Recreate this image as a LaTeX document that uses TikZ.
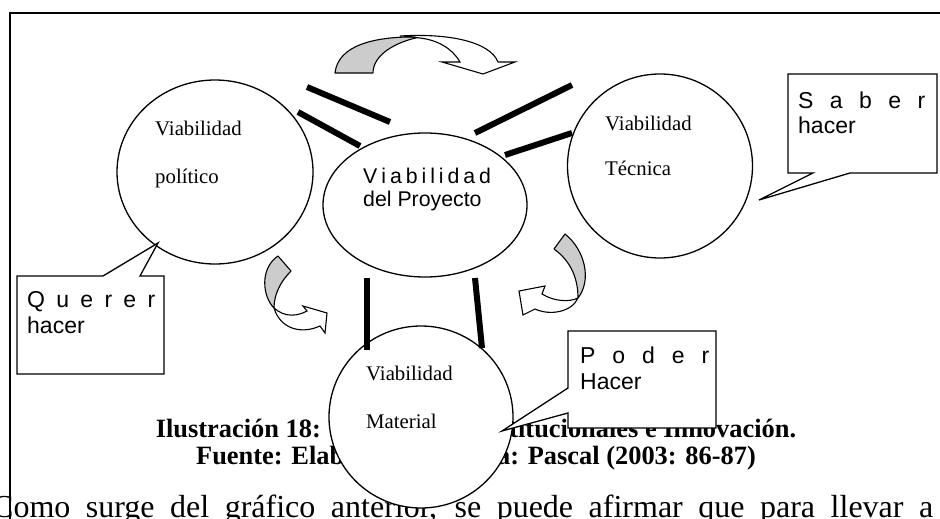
\documentclass[tikz,border=0pt]{standalone}
\usepackage{fontspec}
\setmainfont{Liberation Serif}
\newfontfamily\arialf{Liberation Sans}
\usetikzlibrary{shapes.geometric}
\definecolor{arrowgray}{RGB}{204,204,204}
\begin{document}
\begin{tikzpicture}[x=1pt,y=-1pt,
  bubble/.style={draw,line width=1.3pt,fill=white,ellipse,inner sep=0pt},
  bar/.style={line width=6pt},
  callout/.style={draw,line width=1.3pt,fill=white,line join=miter},
  back/.style={draw,line width=1.1pt,fill=arrowgray,line join=round},
  front/.style={draw,line width=1.1pt,fill=white,line join=miter},
  circtext/.style={anchor=base west,inner sep=0pt,font=\fontsize{20.8}{24}\selectfont},
  sanstext/.style={anchor=base west,inner sep=0pt,font=\arialf\fontsize{23}{27}\selectfont},
  projtext/.style={anchor=base west,inner sep=0pt,font=\arialf\fontsize{21.3}{25}\selectfont},
  captext/.style={anchor=base,inner sep=0pt,font=\bfseries\fontsize{26.4}{30}\selectfont},
  bodytext/.style={anchor=base west,inner sep=0pt,font=\fontsize{32}{38}\selectfont},
]
\useasboundingbox (0,0) rectangle (940,519);
\clip (0,0) rectangle (940,519);

% body text and caption (partly covered later)
\node[bodytext] (body) at (-8,517) {\makebox[941pt][s]{Como surge del gráfico anterior, se puede afirmar que para llevar a}};
\node[captext] (cap1) at (476,437) {Ilustración 18: Condiciones Institucionales e Innovación.};
\node[captext] (cap2) at (476,464) {Fuente: Elaboración propia: Pascal (2003: 86-87)};

% frame
\draw[line width=1.5pt] (10,530) -- (10,13) -- (945,13);

% circles
\node[bubble,minimum width=196pt,minimum height=184pt] (pol) at (215,172) {};
\node[bubble,minimum width=204pt,minimum height=144pt] (proy) at (425,205) {};
\node[bubble,minimum width=185pt,minimum height=184pt] (tec) at (660,166) {};
\node[bubble,minimum width=184pt,minimum height=182pt] (mat) at (421,417) {};

\node[circtext] (pol1) at (155,135) {Viabilidad};
\node[circtext] (pol2) at (155,183) {político};
\node[circtext] (tec1) at (605,130) {Viabilidad};
\node[circtext] (tec2) at (605,175) {Técnica};
\node[circtext] (mat1) at (366,380) {Viabilidad};
\node[circtext] (mat2) at (366,428) {Material};
\node[projtext] (proy1) at (363,183) {\makebox[124pt][s]{V i a b i l i d a d}};
\node[projtext] (proy2) at (363,206) {del Proyecto};

% thick bars
\coordinate (b1a) at (307,87);  \coordinate (b1b) at (390,122);
\coordinate (b2a) at (298,112); \coordinate (b2b) at (360,146);
\coordinate (b3a) at (475,133); \coordinate (b3b) at (572,85);
\coordinate (b4a) at (505,155); \coordinate (b4b) at (572,133);
\coordinate (b5a) at (367,278); \coordinate (b5b) at (367,350);
\coordinate (b6a) at (475,278); \coordinate (b6b) at (482,348);
\draw[bar] (b1a) -- (b1b);
\draw[bar] (b2a) -- (b2b);
\draw[bar] (b3a) -- (b3b);
\draw[bar] (b4a) -- (b4b);
\draw[bar] (b5a) -- (b5b);
\draw[bar] (b6a) -- (b6b);

% top curved arrow
\draw[back] (335,73) .. controls (338,45) and (375,36) .. (420,37)
  .. controls (395,42) and (373,55) .. (373,73) -- cycle;
\draw[front] (400,36) .. controls (450,33) and (490,42) .. (498,62) -- (515,62) -- (483,74) -- (442,62) -- (460,62)
  .. controls (452,48) and (437,40) .. (420,38) .. controls (412,37) and (405,36) .. (400,36) -- cycle;

% left lower curved arrow
\draw[back] (278,256) -- (291,271) .. controls (280,282) and (274,295) .. (274,308)
  .. controls (262,296) and (260,268) .. (278,256) -- cycle;
\draw[front] (274,308) .. controls (285,318) and (298,316) .. (307,311) -- (303,306) -- (327,313) -- (325,333) -- (320,326)
  .. controls (300,335) and (280,328) .. (274,308) -- cycle;

% right lower curved arrow
\draw[back] (554,249) -- (565,234) .. controls (585,250) and (592,280) .. (578,298)
  .. controls (578,280) and (572,262) .. (554,249) -- cycle;
\draw[front] (578,298) .. controls (570,302) and (555,302) .. (542,294) -- (545,286) -- (519,291) -- (523,315) -- (535,309)
  .. controls (550,316) and (572,312) .. (578,298) -- cycle;

% callouts
\draw[callout] (788,74) -- (937,74) -- (937,173) -- (850,173) -- (759,200) -- (813,173) -- (788,173) -- cycle;
\node[sanstext] (sab1) at (798,108) {\makebox[127pt][s]{S a b e r}};
\node[sanstext] (sab2) at (798,133) {hacer};

\draw[callout] (17,276) -- (103,276) -- (158,243) -- (140,276) -- (164,276) -- (164,374) -- (17,374) -- cycle;
\node[sanstext] (que1) at (27,307) {\makebox[128pt][s]{Q u e r e r}};
\node[sanstext] (que2) at (27,333) {hacer};

\draw[callout] (568,331) -- (716,331) -- (716,428) -- (568,428) -- (568,413) -- (502,431) -- (568,388) -- cycle;
\node[sanstext] (pod1) at (580,363) {\makebox[129pt][s]{P o d e r}};
\node[sanstext] (pod2) at (580,389) {Hacer};
\end{tikzpicture}
\end{document}
